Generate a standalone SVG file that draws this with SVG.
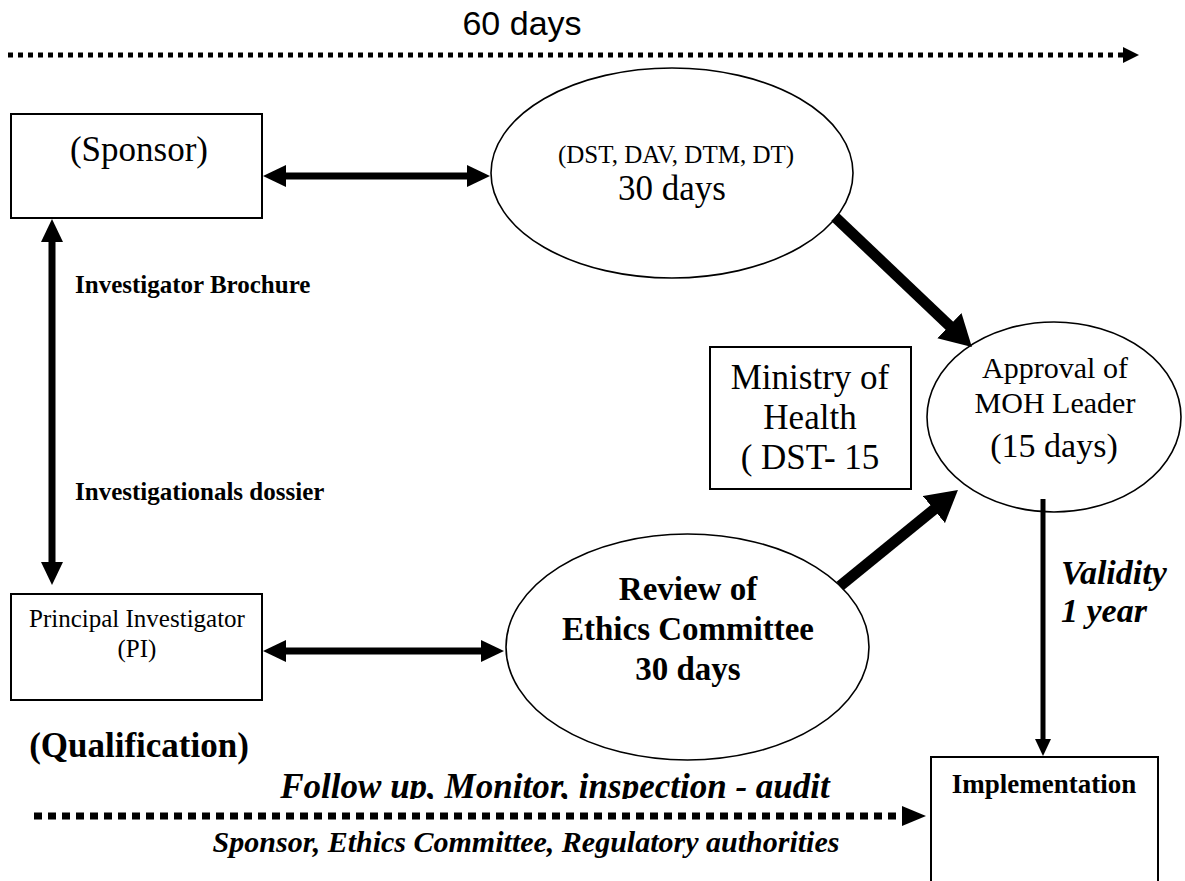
<svg xmlns="http://www.w3.org/2000/svg" width="1185" height="881" viewBox="0 0 1185 881">
<style>
.box{fill:#fff;stroke:#000;stroke-width:2}
.ell{fill:#fff;stroke:#000;stroke-width:1.6}
.t{font-family:"Liberation Serif","Times New Roman",serif;fill:#000;text-anchor:middle}
.b{font-weight:bold}
.bi{font-weight:bold;font-style:italic}
.s{font-family:"Liberation Sans",Arial,sans-serif;fill:#000;text-anchor:middle}
.dbl{stroke:#000;stroke-width:7;fill:none;marker-start:url(#hd);marker-end:url(#hd)}
.diag{stroke:#000;stroke-width:11;fill:none;marker-end:url(#hb)}
</style>
<defs>
<marker id="hd" viewBox="0 0 23 22" refX="13" refY="11" markerWidth="23" markerHeight="22" markerUnits="userSpaceOnUse" orient="auto-start-reverse"><path d="M0,0 L23,11 L0,22 z" fill="#000"/></marker>
<marker id="hb" viewBox="0 0 31 35" refX="16" refY="17.5" markerWidth="31" markerHeight="35" markerUnits="userSpaceOnUse" orient="auto"><path d="M0,0 L31,17.5 L0,35 z" fill="#000"/></marker>
<marker id="hs" viewBox="0 0 17 16" refX="9" refY="8" markerWidth="17" markerHeight="16" markerUnits="userSpaceOnUse" orient="auto"><path d="M0,0 L17,8 L0,16 z" fill="#000"/></marker>
<clipPath id="clipFollow"><rect x="0" y="740" width="1185" height="59"/></clipPath>
</defs>

<g id="timeline-top">
<text class="s" x="522" y="35" font-size="34">60 days</text>
<line x1="8" y1="55" x2="1123" y2="55" stroke="#000" stroke-width="5" stroke-dasharray="5 5"/>
<path d="M1123,47 L1139,55 L1123,63 z" fill="#000"/>
</g>

<g id="sponsor">
<rect class="box" x="11" y="114" width="251" height="104"/>
<text class="t" x="139" y="161" font-size="35">(Sponsor)</text>
</g>

<g id="dst">
<ellipse class="ell" cx="672" cy="173" rx="181" ry="105"/>
<text class="t" x="676" y="163" font-size="25">(DST, DAV, DTM, DT)</text>
<text class="t" x="672" y="200" font-size="35">30 days</text>
</g>

<g id="ministry">
<rect class="box" x="710" y="347" width="201" height="142"/>
<text class="t" x="810" y="389" font-size="35">Ministry of</text>
<text class="t" x="810" y="429" font-size="35">Health</text>
<text class="t" x="810" y="469" font-size="35">( DST- 15</text>
</g>

<g id="approval">
<ellipse class="ell" cx="1054" cy="417" rx="127" ry="95"/>
<text class="t" x="1055" y="378" font-size="30">Approval of</text>
<text class="t" x="1055" y="413" font-size="30">MOH Leader</text>
<text class="t" x="1054" y="457" font-size="34">(15 days)</text>
</g>

<g id="pi">
<rect class="box" x="11" y="594" width="251" height="106"/>
<text class="t" x="137" y="627" font-size="25">Principal Investigator</text>
<text class="t" x="137" y="657" font-size="25">(PI)</text>
</g>

<g id="review">
<ellipse class="ell" cx="687.5" cy="647" rx="181.5" ry="113"/>
<text class="t b" x="688" y="600" font-size="33">Review of</text>
<text class="t b" x="688" y="640" font-size="33">Ethics Committee</text>
<text class="t b" x="688" y="680" font-size="33">30 days</text>
</g>

<g id="implementation">
<rect class="box" x="931" y="757" width="227" height="200"/>
<text class="t b" x="1044" y="793" font-size="27">Implementation</text>
</g>

<g id="labels">
<text class="t b" x="75" y="293" font-size="25" style="text-anchor:start">Investigator Brochure</text>
<text class="t b" x="75" y="500" font-size="25" style="text-anchor:start">Investigationals dossier</text>
<text class="t b" x="139" y="757" font-size="35">(Qualification)</text>
<text class="t bi" x="1061" y="584" font-size="34" style="text-anchor:start">Validity</text>
<text class="t bi" x="1061" y="622" font-size="34" style="text-anchor:start">1 year</text>
<text class="t bi" x="555" y="798" font-size="35" clip-path="url(#clipFollow)">Follow up, Monitor, inspection - audit</text>
<text class="t bi" x="526" y="852" font-size="30">Sponsor, Ethics Committee, Regulatory authorities</text>
</g>

<g id="connectors">
<line class="dbl" x1="273" y1="176" x2="480" y2="176"/>
<line class="dbl" x1="52" y1="229" x2="52" y2="575"/>
<line class="dbl" x1="273" y1="651" x2="494" y2="651"/>
<line class="diag" x1="835" y1="217" x2="961" y2="336.7"/>
<line class="diag" x1="840" y1="586" x2="946.3" y2="499.4"/>
<line x1="1043" y1="499" x2="1043" y2="748" stroke="#000" stroke-width="5" marker-end="url(#hs)"/>
<line x1="34" y1="816" x2="902" y2="816" stroke="#000" stroke-width="7" stroke-dasharray="8 6"/>
<path d="M902,806 L926,816 L902,826 z" fill="#000"/>
</g>
</svg>
